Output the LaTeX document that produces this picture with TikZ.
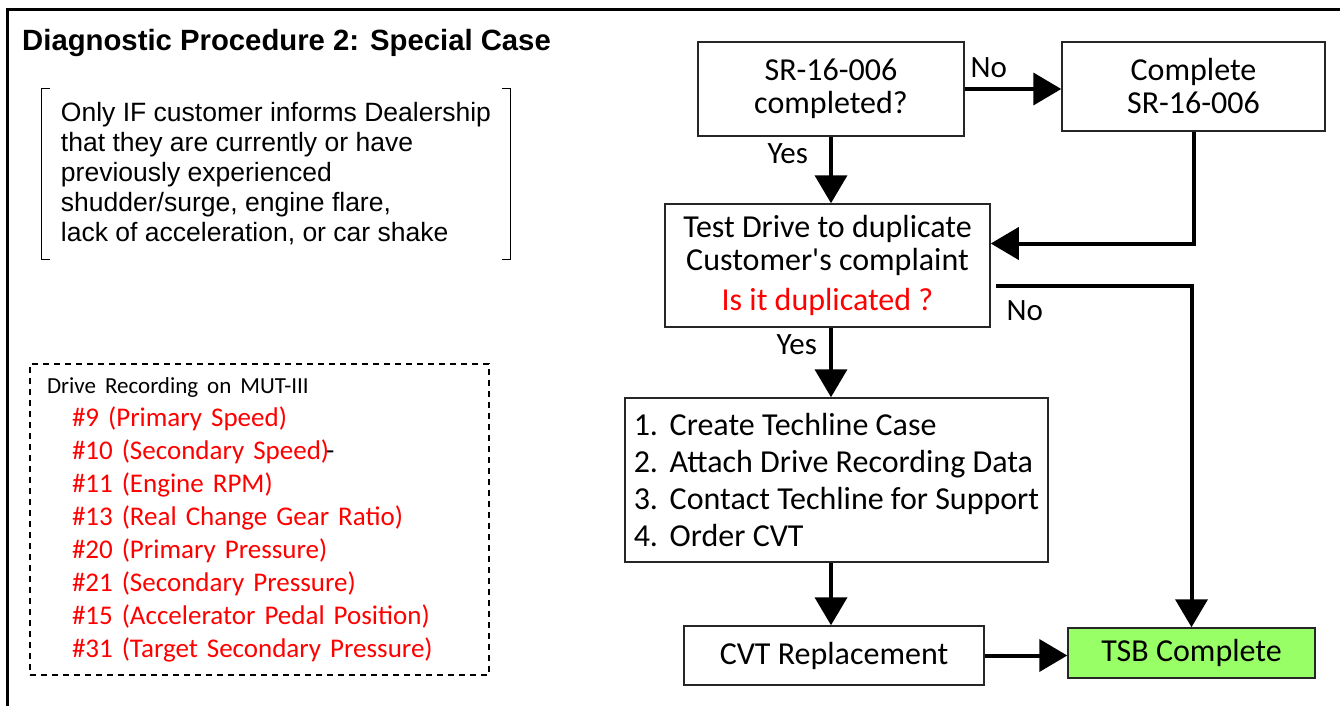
\documentclass[tikz,border=0pt]{standalone}
\usepackage{fontspec}
\setmainfont{Carlito}
\newfontfamily\arialfont{Liberation Sans}
\usepackage{xcolor}
\usetikzlibrary{arrows.meta,positioning}
\definecolor{tsbgreen}{HTML}{99FF66}

\begin{document}
\begin{tikzpicture}[x=1pt, y=-1pt,
    box/.style={rectangle, draw=black!85, line width=1.5pt, align=center, inner sep=0pt, font=\fontsize{32}{33}\selectfont},
    arrow/.style={-{Triangle[length=28pt,width=32pt]}, line width=4pt},
    lbl/.style={inner sep=0pt, font=\fontsize{31}{33}\selectfont},
    item/.style={}
]
\useasboundingbox (0,0) rectangle (1340,706);
\clip (0,0) rectangle (1340,706);

% Frame
\draw[line width=3pt] (7,10) rectangle (1360,730);

% Title and note
\node[anchor=west, inner sep=0pt, font=\arialfont\bfseries\fontsize{29.3}{34}\selectfont] (title) at (22,43) {Diagnostic Procedure 2: Special Case};
\node[minimum width=468pt, inner sep=0pt, minimum height=170pt, align=left, font=\arialfont\fontsize{26.5}{30}\selectfont] (note) at (276,174)
  {Only IF customer informs Dealership\\that they are currently or have\\previously experienced\\shudder/surge, engine flare,\\lack of acceleration, or car shake};
\draw[line width=1pt] ([xshift=8pt]note.north west) -- (note.north west) -- (note.south west) -- ++(8,0);
\draw[line width=1pt] ([xshift=-8pt]note.north east) -- (note.north east) -- (note.south east) -- ++(-8,0);

% Drive recording
\node[draw, dash pattern=on 6pt off 5pt, line width=1.1pt, minimum width=459pt, minimum height=311pt, text width=425pt, inner xsep=17pt, align=left, font=\fontsize{27}{33}\selectfont] (rec) at (259.5,519.5)
  {{\fontsize{23}{33}\selectfont Drive Recording on MUT-III}\\
   \hspace*{25pt}\textcolor{red}{\#9 (Primary Speed)}\\
   \hspace*{25pt}\textcolor{red}{\#10 (Secondary Speed)}\kern-3pt-\\
   \hspace*{25pt}\textcolor{red}{\#11 (Engine RPM)}\\
   \hspace*{25pt}\textcolor{red}{\#13 (Real Change Gear Ratio)}\\
   \hspace*{25pt}\textcolor{red}{\#20 (Primary Pressure)}\\
   \hspace*{25pt}\textcolor{red}{\#21 (Secondary Pressure)}\\
   \hspace*{25pt}\textcolor{red}{\#15 (Accelerator Pedal Position)}\\
   \hspace*{25pt}\textcolor{red}{\#31 (Target Secondary Pressure)}};

% Flow boxes
\node[box, minimum width=266pt, minimum height=94pt] (srq) at (831,89) {SR-16-006\\completed?};
\node[box, minimum width=263pt, minimum height=89pt] (srdo) at (1193.5,86.5) {Complete\\SR-16-006};
\node[box, minimum width=325pt, minimum height=123pt] (test) at (827.5,265.5) {Test Drive to duplicate\\Customer\textquotesingle s complaint\\[7pt]\textcolor{red}{Is it duplicated ?}};
\node[box, minimum width=423pt, minimum height=164pt, align=left, font=\fontsize{32}{37}\selectfont] (steps) at (836.5,480)
  {\makebox[36pt][l]{1.}Create Techline Case\\
   \makebox[36pt][l]{2.}Attach Drive Recording Data\\
   \makebox[36pt][l]{3.}Contact Techline for Support\\
   \makebox[36pt][l]{4.}Order CVT};
\node[box, minimum width=300pt, minimum height=59pt] (cvt) at (834,655.5) {CVT Replacement};
\node[box, fill=tsbgreen, minimum width=247pt, minimum height=50pt] (tsb) at (1191.5,653) {TSB Complete};

% Arrows
\draw[arrow] (srq.east) -- (srq.east -| srdo.west) node[lbl, pos=0.25, above=9pt] (no1) {No};
\draw[arrow] (srq.south) -- (srq.south |- test.north) node[lbl, pos=0.25, left=21pt] (yes1) {Yes};
\draw[arrow] (srdo.south) |- ([yshift=22pt]test.east);
\draw[arrow] ([xshift=5pt,yshift=-20pt]test.east) -| (tsb.north) node[lbl, pos=0.074, below=13pt] (no2) {No};
\draw[arrow] (test.south -| srq.south) -- (srq.south |- steps.north) node[lbl, pos=0.25, left=12pt] (yes2) {Yes};
\draw[arrow] (steps.south -| srq.south) -- (srq.south |- cvt.north);
\draw[arrow] (cvt.east) -- (cvt.east -| tsb.west);

\end{tikzpicture}
\end{document}
